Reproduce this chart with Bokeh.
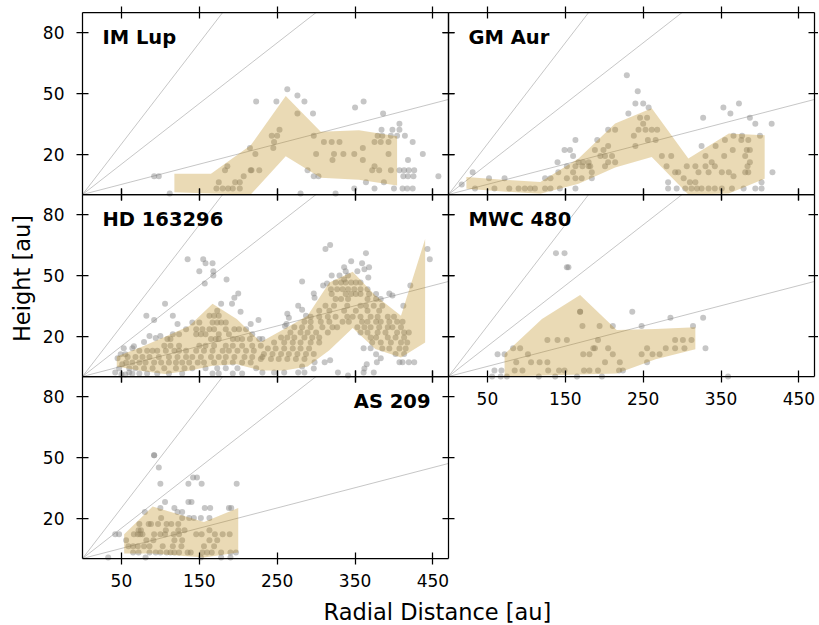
import numpy as np
from bokeh.plotting import figure
from bokeh.models import Range1d, LinearAxis, FixedTicker, Label
from bokeh.embed import file_html
from bokeh.resources import INLINE

XMAX = 470
YMAX = 90
SLOPES = [0.1, 0.3, 0.5]
X_TICKS = [50, 150, 250, 350, 450]
Y_TICKS = [20, 50, 80]
X_LABEL = "Radial Distance [au]"
Y_LABEL = "Height [au]"
NAMES = ["IM Lup", "GM Aur", "HD 163296", "MWC 480", "AS 209"]

# ---------------- IM Lup ----------------
imlup_r = [263, 276, 285, 223, 249, 276, 296, 350, 361, 386, 407,
           384, 398, 407, 379, 385, 396, 404, 414, 424,
           243, 253, 250, 246, 245, 215, 222, 297, 310, 320, 330, 360, 375, 383, 393,
           300, 323, 335, 349, 393, 437, 321, 360, 375, 418,
           289, 372, 381, 396, 407, 413, 419, 426,
           297, 303, 412, 418, 425, 457, 364, 387,
           349, 375, 400, 411, 417, 424,
           186, 183, 217, 227, 207, 175, 196, 202, 216,
           172, 180, 187, 193, 202, 92, 98, 112, 280, 325]
imlup_z = [52, 49, 46, 46, 46, 40, 40, 43, 46, 40, 35,
           32, 32, 32, 29, 29, 29, 29, 29, 26,
           29, 32, 29, 26, 23, 23, 20, 29, 26, 26, 26, 23, 26, 26, 26,
           20, 20, 20, 20, 20, 20, 17, 17, 14, 17,
           12, 12, 12, 12, 12, 12, 12, 12,
           9, 9, 9, 9, 9, 9, 6, 6,
           3, 3, 3, 3, 3, 3,
           14, 12, 12, 12, 9, 6, 6, 6, 12,
           3, 3, 3, 3, 3, 9, 9, 0.5, 0.5, 0.5]
imlup_bin = [118, 165, 216, 261, 306, 355, 404]
imlup_hi = [10.3, 10.3, 24.3, 48.7, 31.0, 31.8, 28.8]
imlup_lo = [1.1, 0.5, -1.0, 18.9, 8.3, 7.3, 4.5]

# ---------------- GM Aur ----------------
gmaur_r = [17, 31, 52, 72,
           34, 59, 78, 90, 98, 105, 111, 124, 131, 143, 163,
           124, 131, 141, 152, 152, 160, 163,
           140, 149, 156, 163, 160, 167, 173, 180, 172, 180, 171, 163, 184, 184, 182,
           191, 188, 199, 205, 195, 201, 210, 205, 214, 201,
           205, 214, 238, 240, 229, 243, 240, 250, 231, 257,
           246, 255, 250, 244, 253, 261, 268, 256, 266, 274, 286,
           280, 291, 295, 302, 306, 317, 321, 310, 317,
           282, 293, 304, 312, 319, 325, 334, 342, 351, 364, 379, 394, 402, 282, 402,
           327, 325, 330, 338, 343, 334, 342, 330, 355, 354, 365, 351, 360,
           353, 362, 373, 387, 394, 415, 366, 377, 400, 376, 385,
           383, 387, 381, 387, 384, 381, 385, 416, 366]
gmaur_z = [5, 11, 8, 8,
           3, 3, 3, 3, 3, 3, 3, 3, 3, 3, 3,
           8, 8, 11, 14, 8, 11, 14,
           16, 22, 22, 27, 19, 16, 16, 16, 14, 14, 8, 8, 11, 8, 14,
           27, 22, 22, 24, 19, 19, 19, 16, 16, 14,
           32, 32, 29, 24, 59, 51, 45, 45, 40, 43,
           38, 38, 35, 32, 32, 32, 32, 27, 27, 19, 19,
           14, 11, 11, 8, 14, 14, 11, 6, 6,
           3, 3, 3, 3, 3, 3, 3, 3, 3, 3, 3, 3, 3, 6, 6,
           38, 24, 19, 16, 24, 11, 14, 14, 27, 19, 22, 11, 11,
           43, 40, 45, 38, 35, 35, 29, 29, 29, 27, 27,
           22, 22, 19, 16, 14, 11, 11, 11, 9]
gmaur_bin = [23, 70, 118, 167, 214, 261, 308, 360, 406]
gmaur_hi = [8.6, 7.3, 6.2, 17.8, 35.1, 42.6, 17.8, 30.2, 29.3]
gmaur_lo = [2.8, 1.5, 0.4, 5.3, 13.3, 18.6, -1.3, 0.5, 7.8]

# ---------------- HD 163296 ----------------
hd_r = [135, 155, 158, 167, 150, 168, 168, 157, 185, 200, 195, 192, 178, 106,
        203, 82, 92, 116, 122, 216, 226, 86, 94, 100, 79, 66, 64, 55,
        109, 113, 165, 171, 175, 193, 199, 205, 215, 227, 231,
        105, 113, 124, 150, 158, 169, 184, 193, 205, 218, 229,
        73, 83, 90, 96, 107, 118, 124, 133, 146, 156, 167, 180, 188, 199, 210, 220,
        58, 68, 77, 86, 98, 111, 122, 133, 141, 152, 165, 175, 184, 195, 208, 218, 231,
        56, 64, 73, 81, 92, 101, 111, 120, 128, 137, 148, 156, 169, 182, 193, 205, 216,
        60, 68, 79, 90, 105, 120, 131, 141, 158, 173, 184, 199, 223,
        64, 73, 83, 96, 111, 128, 167, 175, 193, 205,
        141, 150, 167, 173, 178, 184,
        133, 146, 154, 163, 169, 184, 195, 201, 210,
        116, 124, 146, 152, 158, 175, 188, 218,
        163, 169, 175, 173,
        45, 49, 51, 47, 53, 42, 50, 55, 60,
        312, 318, 364, 345, 359, 336, 338, 353, 362, 368,
        320, 330, 336, 341, 367,
        282, 309, 314, 297, 298, 277, 282, 263, 265, 262, 260, 287, 421, 394, 398, 412, 443, 446,
        419, 426, 411, 407, 378, 383, 377, 361, 370, 311, 318,
        298, 297, 328, 341, 365, 362, 374, 361, 282, 285, 277, 259, 246, 231,
        325, 332, 338, 345, 351, 357,
        319, 327, 334, 341, 349, 357, 366,
        320, 338, 345, 351, 357, 368, 377,
        325, 332, 341, 366, 377, 383,
        312, 323, 340, 357, 364, 374, 385,
        304, 317, 336, 351, 366, 381,
        293, 304, 315, 325, 340, 347, 357, 370, 379, 392, 400,
        285, 293, 306, 317, 334, 342, 359, 366, 377, 383, 394, 404, 411,
        272, 282, 293, 308, 321, 327, 353, 362, 370, 381, 392, 398, 409,
        267, 280, 289, 300, 315, 357, 366, 379, 389, 404, 413, 419,
        255, 263, 272, 285, 295, 304, 370, 377, 392, 402, 413,
        246, 259, 270, 280, 293, 304, 372, 383, 396, 409, 417,
        238, 248, 259, 270, 280, 291, 385, 394, 407, 415,
        233, 244, 255, 265, 276, 287, 297, 402, 413,
        229, 242, 252, 263, 274, 285]
hd_z = [58, 58, 56, 56, 52, 52, 50, 46, 48, 41, 39, 36, 36, 36,
        32, 30, 28, 30, 26, 26, 28, 20, 19, 20, 17, 15, 14, 11,
        18.5, 18.5, 18.5, 18.5, 18.5, 18.5, 18.5, 18.5, 18.5, 18.5, 18.5,
        15.2, 15.2, 15.2, 15.2, 15.2, 15.2, 15.2, 15.2, 15.2, 15.2, 15.2,
        12.7, 12.7, 12.7, 12.7, 12.7, 12.7, 12.7, 12.7, 12.7, 12.7, 12.7, 12.7, 12.7, 12.7, 12.7, 12.7,
        9.7, 9.7, 9.7, 9.7, 9.7, 9.7, 9.7, 9.7, 9.7, 9.7, 9.7, 9.7, 9.7, 9.7, 9.7, 9.7, 9.7,
        6.9, 6.9, 6.9, 6.9, 6.9, 6.9, 6.9, 6.9, 6.9, 6.9, 6.9, 6.9, 6.9, 6.9, 6.9, 6.9, 6.9,
        4.1, 4.1, 4.1, 4.1, 4.1, 4.1, 4.1, 4.1, 4.1, 4.1, 4.1, 4.1, 4.1,
        1.5, 1.5, 1.5, 1.5, 1.5, 1.5, 1.5, 1.5, 1.5, 1.5,
        26.7, 26.7, 26.7, 26.7, 26.7, 26.7,
        23.4, 23.4, 23.4, 23.4, 23.4, 23.4, 23.4, 23.4, 23.4,
        20.9, 20.9, 20.9, 20.9, 20.9, 20.9, 20.9, 20.9,
        30, 30, 30, 32.5,
        9, 11, 6, 4, 14, 2, 1, 1, 2,
        63, 65, 61, 57, 56, 54, 52, 52, 53, 54,
        50, 50, 48, 50, 49,
        47, 45, 46, 41, 39, 35, 33, 31, 29, 26, 25, 30, 45, 41, 40, 35, 63, 58,
        7, 7, 7, 7, 7, 9, 11, 14, 14, 7, 8,
        7, 4, 2, 0.5, 6, 4, 2, 2, 5, 2, 2, 2, 2, 2,
        46.5, 46.5, 46.5, 46.5, 46.5, 46.5,
        43.2, 43.2, 43.2, 43.2, 43.2, 43.2, 43.2,
        40.8, 40.8, 40.8, 40.8, 40.8, 40.8, 40.8,
        38.3, 38.3, 38.3, 38.3, 38.3, 38.3,
        35, 35, 35, 35, 35, 35, 35,
        32.5, 32.5, 32.5, 32.5, 32.5, 32.5,
        29.6, 29.6, 29.6, 29.6, 29.6, 29.6, 29.6, 29.6, 29.6, 29.6, 29.6,
        27.1, 27.1, 27.1, 27.1, 27.1, 27.1, 27.1, 27.1, 27.1, 27.1, 27.1, 27.1, 27.1,
        24.3, 24.3, 24.3, 24.3, 24.3, 24.3, 24.3, 24.3, 24.3, 24.3, 24.3, 24.3, 24.3,
        21.8, 21.8, 21.8, 21.8, 21.8, 21.8, 21.8, 21.8, 21.8, 21.8, 21.8, 21.8,
        19.3, 19.3, 19.3, 19.3, 19.3, 19.3, 19.3, 19.3, 19.3, 19.3, 19.3,
        16.8, 16.8, 16.8, 16.8, 16.8, 16.8, 16.8, 16.8, 16.8, 16.8, 16.8,
        13.9, 13.9, 13.9, 13.9, 13.9, 13.9, 13.9, 13.9, 13.9, 13.9,
        11.1, 11.1, 11.1, 11.1, 11.1, 11.1, 11.1, 11.1, 11.1,
        8.6, 8.6, 8.6, 8.6, 8.6, 8.6]
hd_bin = [44, 74, 106, 137, 167, 198, 229, 259, 289, 317, 347, 376, 409, 440]
hd_hi = [9.9, 14.3, 19.6, 25.0, 36.0, 28.4, 17.0, 23.5, 30.0, 46.5, 51.8, 40.0, 30.0, 68.0]
hd_lo = [5.0, 2.8, 1.2, 2.8, 5.3, 6.1, 3.0, 3.0, 5.0, 13.0, 24.0, 13.6, 9.4, 16.8]

# ---------------- MWC 480 ----------------
mwc_r = [138, 149, 152, 154, 236, 169, 169, 285, 327, 248, 211, 194, 172, 314,
         127, 140, 152, 192, 291, 301, 312,
         330, 83, 92, 186, 188, 205, 255, 279, 291, 303,
         63, 72, 102, 173, 181, 211, 248, 262, 271,
         87, 106, 117, 127, 201, 220, 255,
         59, 68, 85, 95, 128, 142, 149, 174, 181, 192, 219, 224,
         56, 67, 75, 116, 137, 165, 197, 359]
mwc_z = [61, 61, 54, 54, 32, 32, 32, 29, 29, 25, 25, 25, 25, 25,
         18, 18, 18, 18, 18, 18, 18,
         14, 14, 14, 14, 14, 14, 14, 14, 14, 14,
         11, 11, 11, 11, 11, 11, 11, 11, 11,
         7, 7, 7, 7, 7, 7, 7,
         3, 3, 3, 3, 3, 3, 3, 3, 3, 3, 3, 3,
         0, 0, 0, 0, 0, 0, 0, 0]
mwc_bin = [72, 120, 169, 216, 266, 317]
mwc_hi = [11.1, 28.4, 40.3, 23.0, 23.5, 24.3]
mwc_lo = [0.0, 0.5, 1.0, 1.5, 8.5, 13.5]

# ---------------- AS 209 ----------------
as_r = [92, 92, 98,
        100, 136, 153, 198, 142, 147,
        106, 136, 140,
        100, 118, 157, 164, 188, 191,
        80, 122, 128,
        101, 128, 137, 143, 152, 163,
        73, 85, 88, 97, 108, 114, 123,
        72, 75, 107, 123, 131, 163,
        42, 47, 66, 71, 74, 77, 92, 100, 106, 117, 124, 146, 153, 170, 180, 189,
        56, 82, 91, 118, 128, 163, 173,
        59, 65, 71, 79, 86, 103, 116, 127, 156, 169,
        65, 72, 86, 94, 100, 108, 113, 118, 124, 135, 139, 154, 160, 166, 178, 190, 197,
        33, 81, 152, 178, 190]
as_z = [51, 51, 45,
        37, 37, 37, 37, 40, 40,
        28, 28, 28,
        25, 25, 25, 25, 25, 25,
        23, 23, 23,
        20, 20, 20, 20, 20, 20,
        17, 17, 17, 17, 17, 17, 17,
        14, 14, 14, 14, 14, 14,
        12, 12, 12, 12, 12, 12, 12, 12, 12, 12, 12, 12, 12, 12, 12, 12,
        9, 9, 9, 9, 9, 9, 9,
        6, 6, 6, 6, 6, 6, 6, 6, 6, 6,
        3, 3, 3, 3, 3, 3, 3, 3, 3, 3, 3, 3, 3, 3, 3, 3, 3,
        0.5, 0.5, 0.5, 0.5, 0.5]
as_bin = [53.5, 90, 122, 156, 200]
as_hi = [12.0, 25.7, 22.0, 18.0, 25.0]
as_lo = [2.5, 2.5, 1.5, 0.5, 3.0]

# ---------------- layout (pixels) ----------------
FONT = "DejaVu Sans"
PAGE_W, PAGE_H = 818, 624
COL_LEFT = [82, 448]
ROW_TOP = [12, 194, 376]
PANEL_W, PANEL_H = 366, 182

kx = PANEL_W / XMAX
ky = PANEL_H / YMAX


def col_range(c):
    return Range1d(-COL_LEFT[c] / kx, (PAGE_W - COL_LEFT[c]) / kx)


def row_range(r):
    bottom = ROW_TOP[r] + PANEL_H
    return Range1d(-(PAGE_H - bottom) / ky, bottom / ky)


p = figure(width=PAGE_W, height=PAGE_H, output_backend="svg", toolbar_location=None,
           x_axis_type=None, y_axis_type=None,
           x_range=col_range(0), y_range=row_range(2),
           min_border_left=0, min_border_right=0, min_border_top=0, min_border_bottom=0)
p.outline_line_color = None
p.background_fill_color = "white"
p.border_fill_color = "white"
p.extra_x_ranges = {"c1": col_range(1)}
p.extra_y_ranges = {"r0": row_range(0), "r1": row_range(1)}

COLS = ["default", "c1"]
ROWS = ["r0", "r1", "default"]

panels = [
    dict(name=NAMES[0], col=0, row=0, r=imlup_r, z=imlup_z, b=imlup_bin, hi=imlup_hi, lo=imlup_lo,
         xlab=False, ylab=True, right=False),
    dict(name=NAMES[1], col=1, row=0, r=gmaur_r, z=gmaur_z, b=gmaur_bin, hi=gmaur_hi, lo=gmaur_lo,
         xlab=False, ylab=False, right=False),
    dict(name=NAMES[2], col=0, row=1, r=hd_r, z=hd_z, b=hd_bin, hi=hd_hi, lo=hd_lo,
         xlab=False, ylab=True, right=False),
    dict(name=NAMES[3], col=1, row=1, r=mwc_r, z=mwc_z, b=mwc_bin, hi=mwc_hi, lo=mwc_lo,
         xlab=True, ylab=False, right=False),
    dict(name=NAMES[4], col=0, row=2, r=as_r, z=as_z, b=as_bin, hi=as_hi, lo=as_lo,
         xlab=True, ylab=True, right=True),
]


def add_axis(side, loc, xr, yr, ticks, bounds, labels, standoff):
    ax = LinearAxis(fixed_location=loc, x_range_name=xr, y_range_name=yr,
                    ticker=FixedTicker(ticks=ticks), bounds=bounds,
                    major_tick_in=6, major_tick_out=6, minor_tick_in=0, minor_tick_out=0,
                    axis_line_color="black", axis_line_width=1.25,
                    major_tick_line_color="black", major_tick_line_width=1.25,
                    major_label_text_font=FONT, major_label_text_font_size="17px",
                    major_label_standoff=standoff)
    ax.major_label_text_color = "black" if labels else None
    p.add_layout(ax, side)


for pn in panels:
    xr = COLS[pn["col"]]
    yr = ROWS[pn["row"]]
    for s in SLOPES:
        r_end = min(XMAX, YMAX / s)
        p.line([0, r_end], [0, s * r_end], line_color="gray", line_alpha=0.5, line_width=0.9,
               x_range_name=xr, y_range_name=yr)
    p.scatter(pn["r"], pn["z"], size=6, fill_color="gray", fill_alpha=0.45, line_color=None,
              x_range_name=xr, y_range_name=yr)
    p.varea(x=pn["b"], y1=np.maximum(np.array(pn["lo"]), 0), y2=pn["hi"],
            fill_color="darkgoldenrod", fill_alpha=0.3, x_range_name=xr, y_range_name=yr)

    add_axis("below", 0, xr, yr, X_TICKS, (0, XMAX), pn["xlab"], 9)
    add_axis("above", YMAX, xr, yr, X_TICKS, (0, XMAX), False, 8)
    add_axis("left", 0, xr, yr, Y_TICKS, (0, YMAX), pn["ylab"], 12)
    add_axis("right", XMAX, xr, yr, Y_TICKS, (0, YMAX), False, 8)

    if pn["right"]:
        lab = Label(x=XMAX, y=YMAX, x_offset=-18, y_offset=-25, text=pn["name"],
                    text_align="right", text_baseline="alphabetic")
    else:
        lab = Label(x=0, y=YMAX, x_offset=20, y_offset=-25, text=pn["name"],
                    text_align="left", text_baseline="alphabetic")
    lab.x_range_name = xr
    lab.y_range_name = yr
    lab.text_font = FONT
    lab.text_font_style = "bold"
    lab.text_font_size = "19.5px"
    lab.text_color = "black"
    p.add_layout(lab)

ylab = Label(x=0, y=YMAX / 2, x_range_name="default", y_range_name="r1",
             x_offset=-61, y_offset=7, angle=np.pi / 2, text=Y_LABEL,
             text_align="center", text_baseline="alphabetic",
             text_font=FONT, text_font_size="22.5px", text_color="black")
p.add_layout(ylab)
xlab = Label(x=XMAX, y=0, x_range_name="default", y_range_name="default",
             x_offset=-11, y_offset=-53, text=X_LABEL,
             text_align="center", text_baseline="alphabetic",
             text_font=FONT, text_font_size="22.5px", text_color="black")
p.add_layout(xlab)

open("out.html", "w").write(file_html(p, INLINE))
